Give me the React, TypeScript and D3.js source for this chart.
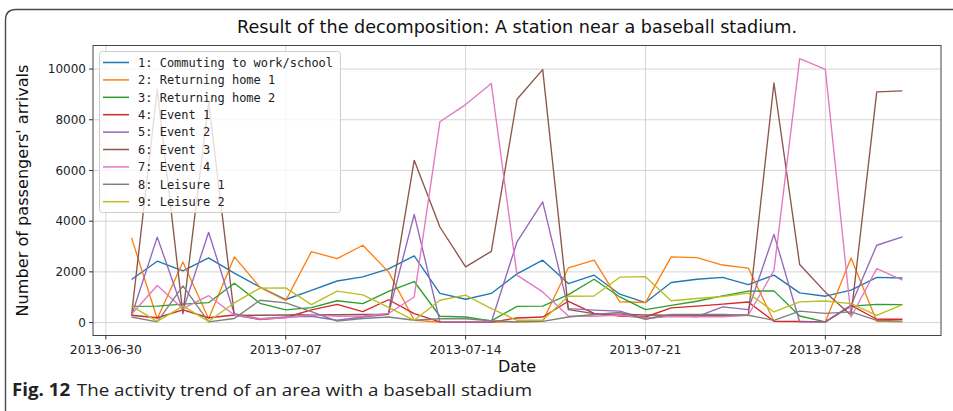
import React from "react";
import * as d3 from "d3";

// Daily passenger arrivals per decomposed component, 2013-07-01 .. 2013-07-31
const startDay = new Date(2013, 6, 1);
const dayCount = 31;

const commuting = [1700, 2420, 2040, 2550, 1950, 1400, 910, 1270, 1640, 1800, 2120, 2630, 1150, 920, 1150, 1920, 2460, 1540, 1870, 1120, 790, 1580, 1710, 1780, 1500, 1870, 1170, 1040, 1280, 1780, 1760];
const returningHome1 = [3340, 150, 2390, 150, 2590, 1390, 870, 2800, 2520, 3050, 2000, 90, 20, 10, 10, 30, 50, 2160, 2460, 820, 790, 2590, 2560, 2270, 2150, 50, 30, 30, 2550, 50, 30];
const returningHome2 = [640, 650, 730, 785, 1550, 760, 500, 590, 860, 745, 1230, 1620, 250, 220, 70, 640, 650, 1100, 1710, 1010, 510, 680, 840, 1050, 1240, 1250, 260, 30, 650, 720, 710];
const event1 = [290, 190, 500, 190, 300, 120, 200, 500, 720, 430, 900, 350, 30, 20, 20, 180, 220, 840, 360, 260, 220, 580, 650, 730, 810, 50, 50, 30, 680, 130, 130];
const event2 = [270, 3370, 480, 3560, 350, 150, 220, 250, 90, 220, 330, 4270, 30, 20, 20, 3180, 4760, 550, 490, 450, 150, 290, 230, 620, 510, 3480, 30, 30, 680, 3050, 3380];
const event3 = [290, 9200, 350, 8700, 280, 290, 300, 310, 310, 320, 330, 6400, 3770, 2200, 2810, 8810, 9980, 510, 350, 330, 300, 290, 290, 290, 290, 9450, 2290, 1200, 290, 9100, 9140];
const event4 = [330, 1460, 550, 1060, 300, 140, 190, 320, 250, 260, 360, 1010, 7920, 8600, 9430, 1870, 1210, 260, 250, 300, 180, 240, 230, 230, 290, 2060, 10410, 9990, 220, 2130, 1670];
const leisure1 = [220, 30, 1450, 30, 160, 880, 780, 430, 60, 160, 220, 90, 150, 150, 70, 30, 50, 220, 320, 400, 130, 320, 320, 320, 290, 90, 450, 360, 420, 90, 60];
const leisure2 = [650, 50, 650, 50, 780, 1360, 1370, 710, 1240, 1090, 600, 90, 880, 1080, 550, 90, 90, 1040, 1050, 1790, 1810, 860, 950, 1030, 1160, 420, 815, 850, 750, 280, 710];

const seriesLabels = [
  "1: Commuting to work/school",
  "2: Returning home 1",
  "3: Returning home 2",
  "4: Event 1",
  "5: Event 2",
  "6: Event 3",
  "7: Event 4",
  "8: Leisure 1",
  "9: Leisure 2",
];
const seriesValues = [commuting, returningHome1, returningHome2, event1, event2, event3, event4, leisure1, leisure2];
const seriesColors = ["#1f77b4", "#ff7f0e", "#2ca02c", "#d62728", "#9467bd", "#8c564b", "#e377c2", "#7f7f7f", "#bcbd22"];

const xTickDates = ["2013-06-30", "2013-07-07", "2013-07-14", "2013-07-21", "2013-07-28"];
const yTickValues = [0, 2000, 4000, 6000, 8000, 10000];

const titleText = "Result of the decomposition: A station near a baseball stadium.";
const xLabel = "Date";
const yLabel = "Number of passengers' arrivals";
const captionBold = "Fig. 12";
const captionText = "The activity trend of an area with a baseball stadium";

const W = 953;
const H = 411;
const plot = { left: 93, right: 941, top: 45.5, bottom: 335.5 };

function parseDay(s: string) {
  const [y, m, d] = s.split("-").map(Number);
  return new Date(y, m - 1, d);
}

export default function App() {
  const days = d3.range(dayCount).map((i) => d3.timeDay.offset(startDay, i));
  const first = days[0];
  const last = days[days.length - 1];
  const pad = (last.getTime() - first.getTime()) * 0.05;

  const x = d3
    .scaleTime()
    .domain([new Date(first.getTime() - pad), new Date(last.getTime() + pad)])
    .range([plot.left, plot.right]);

  const allVals = seriesValues.flat();
  const yMin = d3.min(allVals) as number;
  const yMax = d3.max(allVals) as number;
  const yPad = (yMax - yMin) * 0.05;
  const y = d3.scaleLinear().domain([yMin - yPad, yMax + yPad]).range([plot.bottom, plot.top]);

  const line = d3
    .line<number>()
    .x((_, i) => x(days[i]))
    .y((v) => y(v));

  const legend = { x: 99.5, y: 51.5, w: 241, h: 161, rowH: 17.4, firstRow: 62.5 };
  const sans = "'DejaVu Sans', sans-serif";

  return (
    <svg width={W} height={H} style={{ position: "absolute", left: 0, top: 0, background: "#fff" }}>
      <rect width={W} height={H} fill="#fff" />
      {/* outer figure frame */}
      <path d="M5.5,412 L5.5,20 Q5.5,9.5 16,9.5 L960,9.5" fill="none" stroke="#4a4a4a" strokeWidth={1.4} />

      {/* title */}
      <text x={(plot.left + plot.right) / 2} y={33} textAnchor="middle" fontFamily={sans} fontSize={17}
        textLength={560} lengthAdjust="spacingAndGlyphs" fill="#111">
        {titleText}
      </text>

      {/* grid */}
      <g stroke="#d0d0d0" strokeWidth={0.9}>
        {xTickDates.map((t) => (
          <line key={t} x1={x(parseDay(t))} x2={x(parseDay(t))} y1={plot.top} y2={plot.bottom} />
        ))}
        {yTickValues.map((v) => (
          <line key={v} x1={plot.left} x2={plot.right} y1={y(v)} y2={y(v)} />
        ))}
      </g>

      {/* series */}
      <g fill="none" strokeWidth={1.35} strokeLinejoin="round">
        {seriesValues.map((vals, i) => (
          <path key={i} d={line(vals) || ""} stroke={seriesColors[i]} />
        ))}
      </g>

      {/* axes frame */}
      <rect x={plot.left} y={plot.top} width={plot.right - plot.left} height={plot.bottom - plot.top}
        fill="none" stroke="#444" strokeWidth={1} />

      {/* x ticks */}
      <g fontFamily={sans} fontSize={12.5} fill="#222">
        {xTickDates.map((t) => {
          const px = x(parseDay(t));
          return (
            <g key={t}>
              <line x1={px} x2={px} y1={plot.bottom} y2={plot.bottom + 4} stroke="#333" />
              <text x={px} y={plot.bottom + 18} textAnchor="middle" textLength={72} lengthAdjust="spacingAndGlyphs">
                {t}
              </text>
            </g>
          );
        })}
      </g>

      {/* y ticks */}
      <g fontFamily={sans} fontSize={12} fill="#222">
        {yTickValues.map((v) => (
          <g key={v}>
            <line x1={plot.left - 4} x2={plot.left} y1={y(v)} y2={y(v)} stroke="#333" />
            <text x={plot.left - 7} y={y(v) + 4.3} textAnchor="end">
              {v}
            </text>
          </g>
        ))}
      </g>

      {/* axis labels */}
      <text x={(plot.left + plot.right) / 2} y={372} textAnchor="middle" fontFamily={sans} fontSize={16} fill="#111">
        {xLabel}
      </text>
      <text transform={`translate(28,${(plot.top + plot.bottom) / 2}) rotate(-90)`} textAnchor="middle"
        fontFamily={sans} fontSize={15.5} fill="#111" textLength={252} lengthAdjust="spacingAndGlyphs">
        {yLabel}
      </text>

      {/* legend */}
      <g>
        <rect x={legend.x} y={legend.y} width={legend.w} height={legend.h} rx={3}
          fill="#fff" fillOpacity={0.8} stroke="#cccccc" strokeWidth={1} />
        {seriesLabels.map((lab, i) => {
          const ry = legend.firstRow + i * legend.rowH;
          return (
            <g key={lab}>
              <line x1={103} x2={129} y1={ry} y2={ry} stroke={seriesColors[i]} strokeWidth={1.5} />
              <text x={138} y={ry + 4.3} fontFamily="'DejaVu Sans Mono', monospace" fontSize={12} fill="#222">
                {lab}
              </text>
            </g>
          );
        })}
      </g>

      {/* caption */}
      <text x={12} y={396} fontFamily="'Open Sans', sans-serif" fontSize={17} fill="#222"
        textLength={520} lengthAdjust="spacingAndGlyphs">
        <tspan fontWeight="bold">{captionBold}</tspan>
        <tspan dx={6}>{captionText}</tspan>
      </text>
    </svg>
  );
}
